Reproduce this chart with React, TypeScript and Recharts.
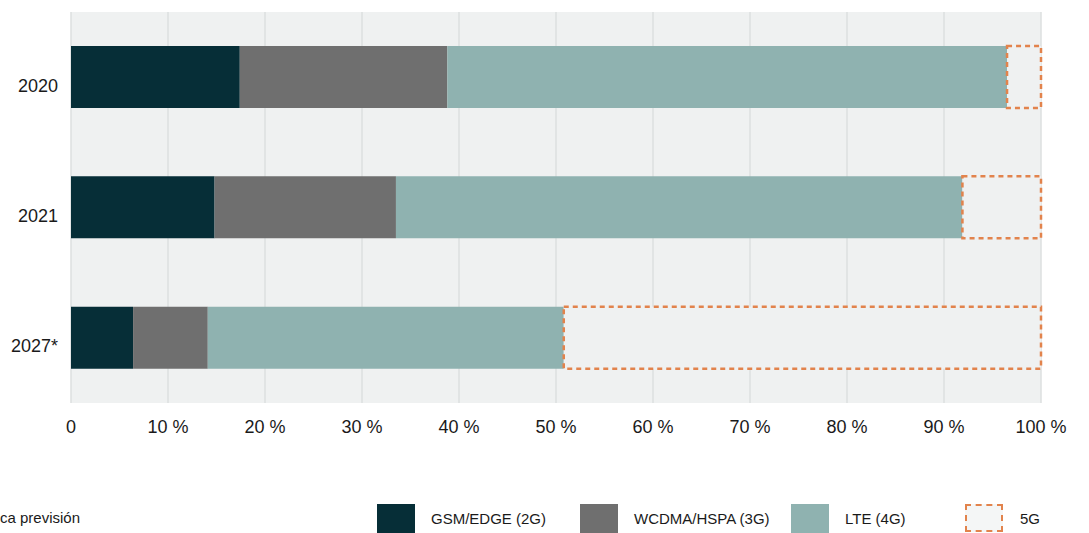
import { Bar, BarChart, CartesianGrid, Legend, XAxis, YAxis } from "recharts";

const years = ["2020", "2021", "2027*"];
const gsm = [17.4, 14.8, 6.4];
const wcdma = [21.4, 18.7, 7.7];
const lte = [57.7, 58.4, 36.7];
const fiveG = [3.5, 8.1, 49.2];
const xTicks = [0, 10, 20, 30, 40, 50, 60, 70, 80, 90, 100];

const series = [
  { key: "gsm", name: "GSM/EDGE (2G)", color: "#062e37" },
  { key: "wcdma", name: "WCDMA/HSPA (3G)", color: "#6f6f6f" },
  { key: "lte", name: "LTE (4G)", color: "#8fb2b0" },
  { key: "fiveG", name: "5G", color: "#e2834c" },
];

const data = years.map((year, i) => ({
  year,
  gsm: gsm[i],
  wcdma: wcdma[i],
  lte: lte[i],
  fiveG: fiveG[i],
}));

const font = "'Liberation Sans', Arial, sans-serif";
const plotBg = "#eff1f1";
const legendLeft = [377, 580, 791, 965];

// year labels sit a bit below the bar centre in the original
function YearTick({ x, y, payload }: any) {
  return (
    <text x={x - 5} y={y + 8} dy="0.355em" textAnchor="end" fontSize={18} fill="#1a1a1a" fontFamily={font}>
      {payload.value}
    </text>
  );
}

function LegendRow() {
  return (
    <div style={{ position: "relative", width: 1089, height: 33, fontFamily: font, fontSize: 15, color: "#1a1a1a" }}>
      <span style={{ position: "absolute", left: 0, top: 9 }}>ca previsión</span>
      {series.map((s, i) => (
        <div key={s.key} style={{ position: "absolute", left: legendLeft[i], top: 4, display: "flex", alignItems: "center" }}>
          {s.key === "fiveG" ? (
            <div
              style={{
                width: 38,
                height: 28,
                boxSizing: "border-box",
                border: `2.5px dashed ${s.color}`,
                background: "#f4f6f6",
              }}
            />
          ) : (
            <div style={{ width: 38, height: 29, background: s.color }} />
          )}
          <span style={{ marginLeft: s.key === "fiveG" ? 17 : 16 }}>{s.name}</span>
        </div>
      ))}
    </div>
  );
}

export default function App() {
  return (
    <div style={{ position: "absolute", left: 0, top: 0, width: 1089, height: 533, background: "#fff", overflow: "hidden" }}>
      <BarChart
        width={1089}
        height={533}
        data={data}
        layout="vertical"
        margin={{ top: 12, right: 48, bottom: 57, left: 0 }}
        barSize={62}
      >
        <CartesianGrid horizontal={false} stroke="#dcdfdf" strokeWidth={1.5} fill={plotBg} />
        <XAxis
          type="number"
          domain={[0, 100]}
          ticks={xTicks}
          tickFormatter={(v: number) => (v === 0 ? "0" : `${v} %`)}
          tick={{ fontSize: 18, fill: "#1a1a1a", fontFamily: font }}
          tickLine={false}
          axisLine={false}
          tickMargin={11}
          height={40}
        />
        <YAxis type="category" dataKey="year" width={71} tick={<YearTick />} tickLine={false} axisLine={false} />
        <Legend
          verticalAlign="bottom"
          content={() => <LegendRow />}
          wrapperStyle={{ left: 0, top: 500, width: 1089, height: 33 }}
        />
        {series.map((s) =>
          s.key === "fiveG" ? (
            <Bar
              key={s.key}
              dataKey={s.key}
              name={s.name}
              stackId="a"
              fill={plotBg}
              stroke={s.color}
              strokeWidth={2.5}
              strokeDasharray="5 4"
              isAnimationActive={false}
            />
          ) : (
            <Bar key={s.key} dataKey={s.key} name={s.name} stackId="a" fill={s.color} isAnimationActive={false} />
          )
        )}
      </BarChart>
    </div>
  );
}
